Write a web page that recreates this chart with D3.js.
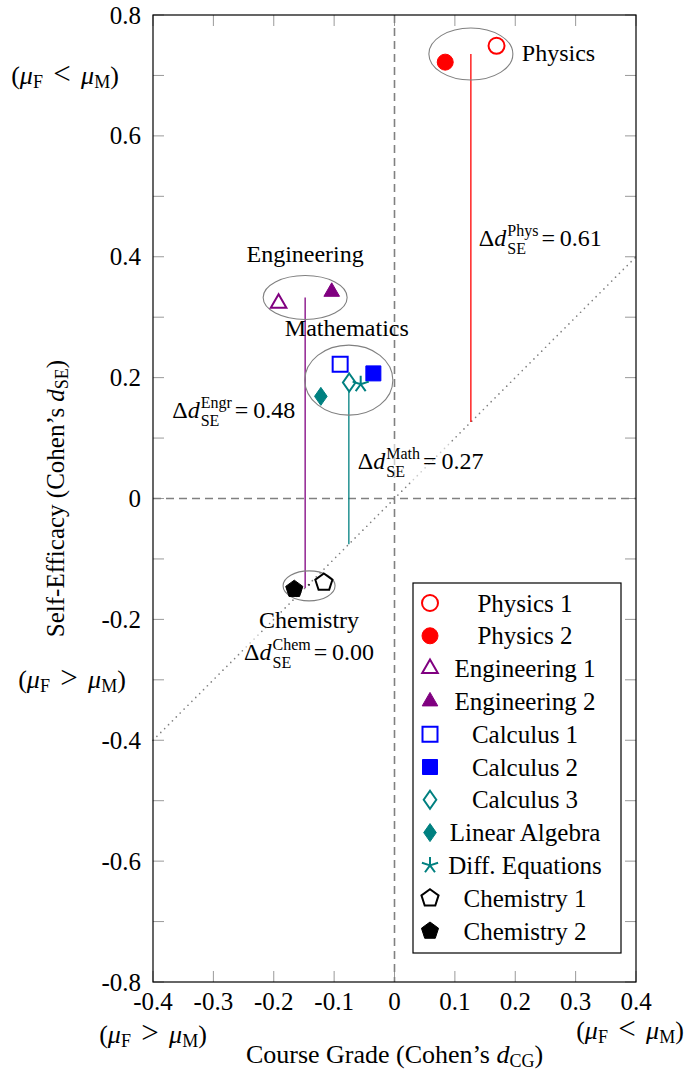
<html>
<head>
<meta charset="utf-8">
<title>Self-efficacy vs course grade</title>
<style>
  body { margin: 0; background: #fff; }
  svg { font-family: "Liberation Serif", "DejaVu Serif", serif; }
  .tick-label { font-size: 25px; }
  .legend-label { font-size: 25px; text-anchor: middle; }
  .group-name { font-size: 24px; }
</style>
</head>
<body>
<script src="https://cdn.jsdelivr.net/npm/d3@7"></script>
<script>
// data
var courses = ["Physics 1", "Physics 2", "Engineering 1", "Engineering 2",
               "Calculus 1", "Calculus 2", "Calculus 3", "Linear Algebra",
               "Diff. Equations", "Chemistry 1", "Chemistry 2"];
var gradeD = [0.169, 0.084, -0.192, -0.104, -0.090, -0.035, -0.075, -0.122, -0.056, -0.117, -0.166];
var selfD  = [0.749, 0.722, 0.323, 0.342, 0.222, 0.207, 0.192, 0.169, 0.189, -0.139, -0.150];
var courseGroup = ["Phys", "Phys", "Engr", "Engr", "Math", "Math", "Math", "Math", "Math", "Chem", "Chem"];
var shapes = ["circle", "circle", "triangle", "triangle", "square", "square",
              "diamond", "diamond", "star", "pentagon", "pentagon"];
var filled = [false, true, false, true, false, true, false, true, false, false, true];

var groupKeys  = ["Phys", "Engr", "Math", "Chem"];
var groupNames = ["Physics", "Engineering", "Mathematics", "Chemistry"];

var xTicks = [-0.4, -0.3, -0.2, -0.1, 0, 0.1, 0.2, 0.3, 0.4];
var yTicks = [-0.8, -0.7, -0.6, -0.5, -0.4, -0.3, -0.2, -0.1, 0, 0.1, 0.2, 0.3, 0.4, 0.5, 0.6, 0.7, 0.8];
var yLabelTicks = [-0.8, -0.6, -0.4, -0.2, 0, 0.2, 0.4, 0.6, 0.8];

// styling
var groupColour = { Phys: "#ff0000", Engr: "#800080", Math: "#008080", Chem: "#000000" };
var courseColour = ["#ff0000", "#ff0000", "#800080", "#800080", "#0000ff", "#0000ff",
                    "#008080", "#008080", "#008080", "#000000", "#000000"];
var ellipseR = { Phys: [42, 26], Engr: [42, 22], Math: [44, 35], Chem: [26, 15] };
// where the annotations sit, relative to each group's mean point (px)
var nameOffset = { Phys: [51, 7, "start"], Engr: [0, -36, "middle"], Math: [-2, -44, "middle"], Chem: [0, 42, "middle"] };
var deltaOffset = { Phys: [8, 192, "start"], Engr: [-10, 120, "end"], Math: [9, 89, "start"], Chem: [0, 74, "middle"] };

var W = 693, H = 1072;
var plotL = 153, plotR = 636, plotT = 15, plotB = 982;
var tickLen = 11;

var x = d3.scaleLinear().domain([-0.4, 0.4]).range([plotL, plotR]);
var y = d3.scaleLinear().domain([-0.8, 0.8]).range([plotB, plotT]);

var svg = d3.select("body").append("svg").attr("width", W).attr("height", H);

var fmt = v => Math.abs(v) < 1e-9 ? "0" : v.toFixed(1);

// ticks, inward on all four sides
var ticks = svg.append("g").attr("stroke", "#9a9a9a").attr("stroke-width", 1);
xTicks.forEach(v => {
  ticks.append("line").attr("x1", x(v)).attr("x2", x(v)).attr("y1", plotB).attr("y2", plotB - tickLen);
  ticks.append("line").attr("x1", x(v)).attr("x2", x(v)).attr("y1", plotT).attr("y2", plotT + tickLen);
});
yTicks.forEach(v => {
  ticks.append("line").attr("y1", y(v)).attr("y2", y(v)).attr("x1", plotL).attr("x2", plotL + tickLen);
  ticks.append("line").attr("y1", y(v)).attr("y2", y(v)).attr("x1", plotR).attr("x2", plotR - tickLen);
});

svg.append("g").selectAll("text").data(xTicks).enter().append("text")
    .attr("class", "tick-label")
    .attr("x", d => x(d)).attr("y", plotB + 28)
    .attr("text-anchor", "middle")
    .text(fmt);
svg.append("g").selectAll("text").data(yLabelTicks).enter().append("text")
    .attr("class", "tick-label")
    .attr("x", plotL - 12).attr("y", d => y(d) + 8.5)
    .attr("text-anchor", "end")
    .text(fmt);

// reference lines
svg.append("line")
    .attr("x1", x(0)).attr("x2", x(0)).attr("y1", plotT).attr("y2", plotB)
    .attr("stroke", "#808080").attr("stroke-width", 1.6).attr("stroke-dasharray", "8,5");
svg.append("line")
    .attr("x1", plotL).attr("x2", plotR).attr("y1", y(0)).attr("y2", y(0))
    .attr("stroke", "#808080").attr("stroke-width", 1.6).attr("stroke-dasharray", "8,5");
svg.append("line")
    .attr("x1", x(-0.4)).attr("y1", y(-0.4)).attr("x2", x(0.4)).attr("y2", y(0.4))
    .attr("stroke", "#808080").attr("stroke-width", 1.7)
    .attr("stroke-linecap", "round").attr("stroke-dasharray", "0,5.5");

// group means
var groups = groupKeys.map((k, i) => {
  var idx = courses.map((c, j) => j).filter(j => courseGroup[j] === k);
  var mx = d3.mean(idx, j => gradeD[j]), my = d3.mean(idx, j => selfD[j]);
  return { key: k, name: groupNames[i], mx: mx, my: my, delta: my - mx };
});

// vertical distance from group mean to the y = x line
svg.append("g").selectAll("line").data(groups).enter().append("line")
    .attr("x1", d => x(d.mx)).attr("x2", d => x(d.mx))
    .attr("y1", d => y(d.my)).attr("y2", d => y(d.mx))
    .attr("stroke", d => groupColour[d.key]).attr("stroke-width", 1.3);

svg.append("g").selectAll("ellipse").data(groups).enter().append("ellipse")
    .attr("cx", d => x(d.mx)).attr("cy", d => y(d.my))
    .attr("rx", d => ellipseR[d.key][0]).attr("ry", d => ellipseR[d.key][1])
    .attr("fill", "none").attr("stroke", "#808080").attr("stroke-width", 1.1);

function markerPath(shape) {
  var p = [];
  if (shape === "circle") return "M8,0A8,8 0 1,1 -8,0A8,8 0 1,1 8,0Z";
  if (shape === "square") return "M-7.5,-7.5H7.5V7.5H-7.5Z";
  if (shape === "diamond") return "M0,-9L6.3,0L0,9L-6.3,0Z";
  if (shape === "triangle") {
    for (var k = 0; k < 3; k++) { var a = -Math.PI / 2 + k * 2 * Math.PI / 3; p.push([9 * Math.cos(a), 9 * Math.sin(a)]); }
    return "M" + p.join("L") + "Z";
  }
  if (shape === "pentagon") {
    for (var k = 0; k < 5; k++) { var a = -Math.PI / 2 + k * 2 * Math.PI / 5; p.push([9 * Math.cos(a), 9 * Math.sin(a)]); }
    return "M" + p.join("L") + "Z";
  }
  if (shape === "star") {
    var s = "";
    for (var k = 0; k < 5; k++) { var a = -Math.PI / 2 + k * 2 * Math.PI / 5; s += "M0,0L" + 8.5 * Math.cos(a) + "," + 8.5 * Math.sin(a); }
    return s;
  }
}

function drawMarker(g, i) {
  g.append("path")
    .attr("d", markerPath(shapes[i]))
    .attr("fill", filled[i] ? courseColour[i] : (shapes[i] === "star" ? "none" : "#fff"))
    .attr("stroke", courseColour[i])
    .attr("stroke-width", filled[i] ? 1 : 2);
}

courses.forEach((c, i) => {
  var g = svg.append("g").attr("transform", "translate(" + x(gradeD[i]) + "," + y(selfD[i]) + ")");
  drawMarker(g, i);
});

// group names
groups.forEach(d => {
  var o = nameOffset[d.key];
  svg.append("text").attr("class", "group-name")
    .attr("x", x(d.mx) + o[0]).attr("y", y(d.my) + o[1])
    .attr("text-anchor", o[2])
    .text(d.name);
});

// Δd labels, with stacked super/subscript
function deltaLabel(d) {
  var o = deltaOffset[d.key];
  var g = svg.append("g");
  var bg = g.append("rect").attr("fill", "#fff").attr("fill-opacity", 0.6);
  var t1 = g.append("text").attr("font-size", 24).attr("x", 0).attr("y", 0);
  t1.append("tspan").text("Δ");
  t1.append("tspan").attr("font-style", "italic").text("d");
  var w1 = t1.node().getComputedTextLength();
  var sup = g.append("text").attr("font-size", 16).attr("x", w1 + 1).attr("y", -10).text(d.key);
  var sub = g.append("text").attr("font-size", 16).attr("x", w1 + 1).attr("y", 8).text("SE");
  var w2 = Math.max(sup.node().getComputedTextLength(), sub.node().getComputedTextLength());
  var v = Math.round(d.delta * 100) / 100;
  var eq = g.append("text").attr("font-size", 24).attr("x", w1 + w2 + 4).attr("y", 0).text("=\u2009" + v.toFixed(2));
  var w = w1 + w2 + 4 + eq.node().getComputedTextLength();
  bg.attr("x", -1).attr("y", -26).attr("width", w + 2).attr("height", 38);
  var shift = o[2] === "end" ? -w : o[2] === "middle" ? -w / 2 : 0;
  g.attr("transform", "translate(" + (x(d.mx) + o[0] + shift) + "," + (y(d.my) + o[1]) + ")");
}
groups.forEach(deltaLabel);

// frame
svg.append("rect")
    .attr("x", plotL).attr("y", plotT).attr("width", plotR - plotL).attr("height", plotB - plotT)
    .attr("fill", "none").attr("stroke", "#000").attr("stroke-width", 1.2);

// (μF < μM) style annotations
function muLabel(px, py, rel) {
  var t = svg.append("text").attr("font-size", 26).attr("x", px).attr("y", py).attr("text-anchor", "middle");
  t.append("tspan").text("(");
  t.append("tspan").attr("font-style", "italic").text("μ");
  t.append("tspan").attr("font-size", 18).attr("dy", 4).text("F");
  t.append("tspan").attr("dy", -4).attr("font-size", 31).text("\u2004" + rel + "\u2004");
  t.append("tspan").attr("font-style", "italic").text("μ");
  t.append("tspan").attr("font-size", 18).attr("dy", 4).text("M");
  t.append("tspan").attr("dy", -4).text(")");
}
muLabel(65, 84, "<");
muLabel(72, 688, ">");
muLabel(x(-0.4), 1043, ">");
muLabel(630, 1039, "<");

// axis titles
var xt = svg.append("text").attr("font-size", 26).attr("x", (plotL + plotR) / 2).attr("y", 1063).attr("text-anchor", "middle");
xt.append("tspan").text("Course Grade (Cohen’s ");
xt.append("tspan").attr("font-style", "italic").text("d");
xt.append("tspan").attr("font-size", 18).attr("dy", 4).text("CG");
xt.append("tspan").attr("dy", -4).text(")");

var yt = svg.append("text").attr("font-size", 25).attr("text-anchor", "middle")
    .attr("transform", "translate(64," + y(0) + ") rotate(-90)");
yt.append("tspan").text("Self-Efficacy (Cohen’s ");
yt.append("tspan").attr("font-style", "italic").text("d");
yt.append("tspan").attr("font-size", 18).attr("dy", 4).text("SE");
yt.append("tspan").attr("dy", -4).text(")");

// legend
var legendX = 413, legendY = 583, legendW = 208, legendH = 370, rowH = 32.8;
var legend = svg.append("g");
legend.append("rect")
    .attr("x", legendX).attr("y", legendY).attr("width", legendW).attr("height", legendH)
    .attr("fill", "#fff").attr("stroke", "#000").attr("stroke-width", 1.2);
courses.forEach((c, i) => {
  var cy = legendY + 20 + i * rowH;
  var g = legend.append("g").attr("transform", "translate(" + (legendX + 17) + "," + cy + ")");
  drawMarker(g, i);
  legend.append("text").attr("class", "legend-label")
    .attr("x", legendX + 112).attr("y", cy + 8.5)
    .text(c);
});
</script>
</body>
</html>
